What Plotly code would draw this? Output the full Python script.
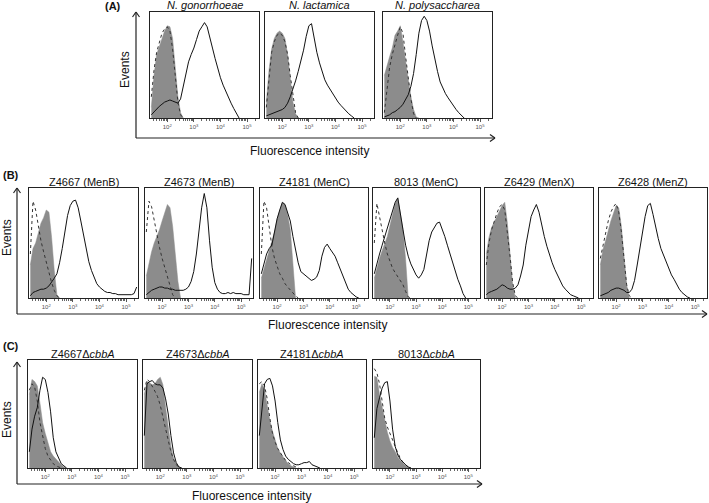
import math
import plotly.graph_objects as go

W, H = 709, 503

# ---------------- data (% of panel height) -------------
log_intensity = [1.4, 1.5, 1.6, 1.7, 1.8, 1.9, 2.0, 2.1, 2.2, 2.3, 2.4, 2.5, 2.6, 2.7,
                 2.8, 2.9, 3.0, 3.1, 3.2, 3.3, 3.4, 3.5, 3.6, 3.7, 3.8, 3.9, 4.0, 4.1,
                 4.2, 4.3, 4.4, 4.5, 4.6, 4.7, 4.8, 4.9, 5.0, 5.1, 5.2, 5.3, 5.4]

major_ticks = [2, 3, 4, 5]
tick_labels = ["10<sup>2</sup>", "10<sup>3</sup>", "10<sup>4</sup>", "10<sup>5</sup>"]

titles_a = ["<i>N. gonorrhoeae</i>", "<i>N. lactamica</i>", "<i>N. polysaccharea</i>"]
titles_b = ["Z4667 (MenB)", "Z4673 (MenB)", "Z4181 (MenC)", "8013 (MenC)",
            "Z6429 (MenX)", "Z6428 (MenZ)"]
titles_c = ["Z4667\u0394<i>cbbA</i>", "Z4673\u0394<i>cbbA</i>",
            "Z4181\u0394<i>cbbA</i>", "8013\u0394<i>cbbA</i>"]

# Panel A
a1_fill = [10, 40, 60, 68, 75, 82, 87, 86, 75, 50, 20, 5, 0]
a1_dash = [20, 45, 62, 72, 80, 84, 86, 82, 65, 40, 15, 3, 0]
a1_line = [3, 6, 9, 11, 13, 15, 16, 17, 16, 15, 14, 18, 30, 44, 53, 60, 66, 74, 82, 86,
           90, 86, 77, 66, 56, 46, 38, 31, 25, 19, 14, 9, 4, 0]
a2_fill = [15, 45, 65, 75, 80, 82, 80, 75, 60, 35, 15, 4, 0]
a2_dash = [10, 40, 62, 72, 78, 80, 78, 72, 60, 40, 20, 5, 0]
a2_line = [2, 3, 4, 5, 6, 7, 8, 10, 14, 20, 27, 35, 44, 54, 64, 77, 87, 89, 75, 62,
           52, 43, 36, 31, 27, 22, 18, 15, 12, 9, 6, 4, 2, 0]
a3_fill = [40, 50, 58, 66, 78, 82, 87, 72, 52, 36, 20, 8, 1, 0]
a3_dash = [5, 30, 48, 60, 70, 78, 86, 80, 58, 38, 18, 4, 0]
a3_line = [1, 2, 3, 5, 6, 8, 10, 13, 17, 22, 30, 42, 60, 80, 92, 96, 92, 82, 68, 54,
           44, 34, 28, 23, 19, 15, 11, 8, 5, 2, 0]

# Panel B
b1_fill = [30, 45, 50, 60, 68, 73, 80, 78, 55, 25, 3, 0]
b1_dash = [40, 88, 80, 65, 52, 42, 33, 22, 14, 7, 2, 0]
b1_line = [2, 5, 6, 7, 8, 8, 9, 11, 14, 18, 22, 32, 45, 62, 75, 84, 88, 89, 82, 70,
           57, 44, 33, 25, 18, 13, 10, 8, 6, 5, 5, 4, 4, 3, 3, 3, 3, 3, 3, 4, 10]
b2_fill = [20, 32, 42, 50, 56, 62, 70, 78, 85, 82, 65, 40, 15, 0]
b2_dash = [60, 88, 83, 70, 56, 46, 36, 28, 20, 10, 3, 0]
b2_line = [3, 5, 7, 8, 9, 10, 10, 9, 9, 8, 8, 7, 7, 7, 7, 8, 10, 15, 24, 40,
           62, 82, 95, 82, 52, 28, 14, 8, 5, 4, 4, 5, 4, 5, 4, 4, 4, 3, 3, 3, 36]
b3_fill = [18, 26, 34, 42, 50, 60, 72, 80, 87, 85, 76, 62, 32, 0]
b3_dash = [40, 88, 82, 62, 47, 36, 28, 22, 18, 13, 10, 7, 5, 2, 0]
b3_line = [22, 30, 40, 45, 48, 60, 72, 80, 87, 85, 78, 70, 56, 44, 32, 24, 22, 20, 18, 16,
           17, 19, 25, 38, 46, 49, 45, 42, 38, 32, 26, 19, 13, 8, 5, 3, 1, 0]
b4_fill = [18, 28, 36, 43, 50, 56, 66, 77, 86, 91, 78, 62, 35, 0]
b4_dash = [50, 86, 74, 60, 50, 40, 33, 27, 23, 19, 16, 12, 6, 1, 0]
b4_line = [22, 32, 40, 48, 56, 64, 72, 80, 87, 91, 78, 62, 48, 38, 31, 26, 21, 18, 21, 26,
           40, 52, 60, 64, 68, 69, 63, 56, 48, 40, 32, 24, 17, 11, 4, 0]
b5_fill = [40, 55, 64, 69, 74, 80, 84, 87, 68, 40, 12, 0]
b5_dash = [30, 50, 62, 70, 77, 83, 85, 80, 60, 38, 14, 2, 0]
b5_line = [3, 5, 6, 7, 8, 10, 12, 11, 9, 8, 8, 9, 12, 20, 30, 48, 63, 74, 80, 85,
           78, 66, 56, 47, 39, 32, 26, 21, 16, 11, 8, 5, 3, 2, 1, 0]
b6_fill = [30, 44, 52, 62, 70, 77, 84, 82, 65, 38, 12, 0]
b6_dash = [36, 48, 60, 70, 78, 83, 86, 78, 60, 35, 12, 2, 0]
b6_line = [2, 3, 4, 5, 7, 8, 9, 9, 8, 7, 5, 5, 8, 16, 30, 46, 62, 74, 84, 86,
           76, 64, 54, 45, 39, 32, 26, 21, 17, 12, 8, 5, 3, 1, 0]

# Panel C
c1_fill = [68, 82, 80, 76, 60, 42, 32, 24, 15, 11, 8, 5, 3, 1, 0]
c1_dash = [72, 78, 75, 62, 42, 28, 18, 11, 7, 4, 2, 1, 0]
c1_line = [15, 36, 48, 56, 72, 84, 82, 70, 52, 28, 15, 9, 4, 2, 0]
c2_fill = [68, 80, 79, 77, 78, 82, 84, 77, 56, 36, 20, 9, 4, 1, 0]
c2_dash = [72, 82, 80, 76, 71, 66, 58, 47, 36, 25, 15, 8, 3, 1, 0]
c2_line = [30, 78, 80, 81, 78, 77, 77, 74, 64, 50, 30, 14, 5, 1, 0]
c3_fill = [70, 78, 72, 58, 44, 34, 26, 18, 14, 10, 7, 4, 2, 1, 0]
c3_dash = [78, 80, 76, 64, 46, 32, 24, 18, 14, 10, 7, 5, 3, 2, 1, 0]
c3_line = [30, 55, 78, 82, 83, 76, 62, 42, 26, 17, 11, 8, 6, 4, 3, 3, 4, 5, 5, 6, 3, 2, 1, 0]
c4_fill = [85, 84, 68, 56, 44, 33, 25, 19, 15, 10, 7, 4, 2, 1, 0]
c4_dash = [92, 88, 78, 62, 46, 38, 32, 25, 20, 14, 9, 5, 3, 1, 0]
c4_line = [28, 55, 65, 74, 79, 80, 62, 36, 20, 12, 8, 5, 3, 1, 0]

# ---------------- layout geometry (pixels) ----------------
panels = [
    # (x0, x1, ytop, ybottom, title, fill, dash, line)
    (150, 259, 12, 118, titles_a[0], a1_fill, a1_dash, a1_line),
    (265, 374, 12, 118, titles_a[1], a2_fill, a2_dash, a2_line),
    (383, 492, 12, 118, titles_a[2], a3_fill, a3_dash, a3_line),
    (29, 138, 188, 298, titles_b[0], b1_fill, b1_dash, b1_line),
    (145, 253, 188, 298, titles_b[1], b2_fill, b2_dash, b2_line),
    (260, 368, 188, 298, titles_b[2], b3_fill, b3_dash, b3_line),
    (373, 480, 188, 298, titles_b[3], b4_fill, b4_dash, b4_line),
    (485, 593, 188, 298, titles_b[4], b5_fill, b5_dash, b5_line),
    (599, 707, 188, 298, titles_b[5], b6_fill, b6_dash, b6_line),
    (28, 137, 360, 468, titles_c[0], c1_fill, c1_dash, c1_line),
    (143, 252, 360, 468, titles_c[1], c2_fill, c2_dash, c2_line),
    (258, 366, 360, 468, titles_c[2], c3_fill, c3_dash, c3_line),
    (373, 480, 360, 468, titles_c[3], c4_fill, c4_dash, c4_line),
]

minor_ticks = [math.log10(m * 10 ** d) for d in (1, 2, 3, 4, 5) for m in range(2, 10)
               if 1.35 <= math.log10(m * 10 ** d) <= 5.45]

FONT = "Liberation Sans, Arial, sans-serif"
GRAY = "#8c8c8c"

fig = go.Figure()
layout = dict(width=W, height=H, margin=dict(l=0, r=0, t=0, b=0),
              paper_bgcolor="white", plot_bgcolor="white", showlegend=False,
              font=dict(family=FONT, color="#111"))
annotations = []
shapes = []


def px(x):
    return x / W


def py(y):
    return 1 - y / H


for i, (x0, x1, yt, yb, title, fill, dash, line) in enumerate(panels):
    n = i + 1
    xa = "x" if n == 1 else f"x{n}"
    ya = "y" if n == 1 else f"y{n}"
    fig.add_trace(go.Scatter(x=log_intensity[:len(fill)], y=fill, mode="lines",
                             fill="tozeroy", fillcolor=GRAY,
                             line=dict(color=GRAY, width=0.5),
                             xaxis=xa, yaxis=ya, hoverinfo="skip"))
    fig.add_trace(go.Scatter(x=log_intensity[:len(dash)], y=dash, mode="lines",
                             line=dict(color="#333", width=1, dash="dot"),
                             xaxis=xa, yaxis=ya, hoverinfo="skip"))
    fig.add_trace(go.Scatter(x=log_intensity[:len(line)], y=line, mode="lines",
                             line=dict(color="#111", width=1),
                             xaxis=xa, yaxis=ya, hoverinfo="skip"))
    xkey = "xaxis" if n == 1 else f"xaxis{n}"
    ykey = "yaxis" if n == 1 else f"yaxis{n}"
    layout[xkey] = dict(domain=[px(x0), px(x1)], anchor=ya, range=[1.35, 5.45],
                        showline=True, mirror=True, linecolor="#222", linewidth=1,
                        ticks="outside", ticklen=3, tickwidth=1, tickcolor="#555",
                        tickmode="array", tickvals=major_ticks, ticktext=tick_labels,
                        tickfont=dict(size=6, color="#555", family=FONT),
                        minor=dict(tickmode="array", tickvals=minor_ticks, ticks="outside",
                                   ticklen=2, tickwidth=0.6, tickcolor="#666"),
                        showgrid=False, zeroline=False, fixedrange=True)
    layout[ykey] = dict(domain=[py(yb), py(yt)], anchor=xa, range=[0, 100],
                        showline=True, mirror=True, linecolor="#222", linewidth=1,
                        showticklabels=False, ticks="", showgrid=False, zeroline=False,
                        fixedrange=True)
    ty = yt - 7 if i < 3 else yt - 6
    annotations.append(dict(x=px((x0 + x1) / 2), y=py(ty), xref="paper", yref="paper",
                            text=title, showarrow=False, xanchor="center", yanchor="middle",
                            font=dict(size=11, family=FONT, color="#111")))


def seg(xa_, ya_, xb_, yb_):
    shapes.append(dict(type="line", xref="paper", yref="paper",
                       x0=px(xa_), y0=py(ya_), x1=px(xb_), y1=py(yb_),
                       line=dict(color="#222", width=1.2)))


def axes_arrows(xv, ytop, ybot, xright):
    seg(xv, ybot, xv, ytop)
    seg(xv - 3.5, ytop + 5, xv, ytop)
    seg(xv + 3.5, ytop + 5, xv, ytop)
    seg(xv, ybot, xright, ybot)
    seg(xright - 5, ybot - 3.5, xright, ybot)
    seg(xright - 5, ybot + 3.5, xright, ybot)


axes_arrows(136, 12, 138, 495)
axes_arrows(17, 188, 314, 707)
axes_arrows(17, 362, 484, 482)


def text(x, y, s, size=12, angle=0, bold=False, xanchor="center"):
    annotations.append(dict(x=px(x), y=py(y), xref="paper", yref="paper",
                            text=f"<b>{s}</b>" if bold else s, showarrow=False,
                            textangle=angle, xanchor=xanchor, yanchor="middle",
                            font=dict(size=size, family=FONT, color="#111")))


text(103, 6, "(A)", size=11, bold=True, xanchor="left")
text(125, 70, "Events", size=12, angle=-90)
text(309, 151, "Fluorescence intensity", size=12)

text(1, 175, "(B)", size=11, bold=True, xanchor="left")
text(7, 238, "Events", size=12, angle=-90)
text(327, 325, "Fluorescence intensity", size=12)

text(1, 346, "(C)", size=11, bold=True, xanchor="left")
text(7, 420, "Events", size=12, angle=-90)
text(251, 496, "Fluorescence intensity", size=12)

layout["annotations"] = annotations
layout["shapes"] = shapes
fig.update_layout(**layout)

fig.write_html("out.html", config={"displayModeBar": False},
               post_script="document.body.style.margin='0';document.body.style.overflow='hidden';")
